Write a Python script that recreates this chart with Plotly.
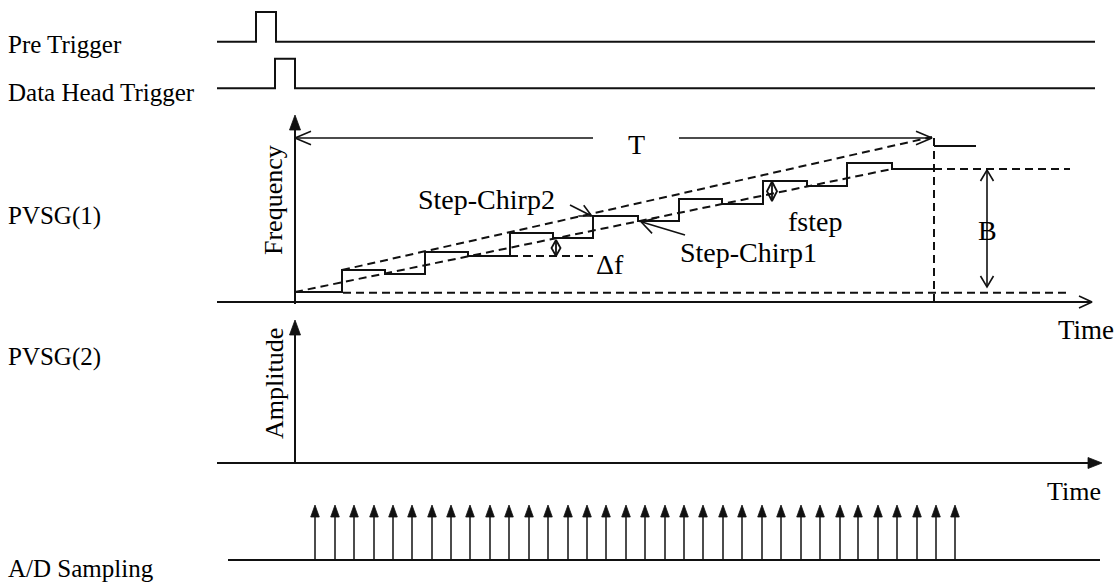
import math
import plotly.graph_objects as go

W, H = 1118, 583
INK = "#111111"
FONT = "Liberation Serif"
FS_SIDE = 25      # lane names on the left
FS_IN = 28        # annotations inside the diagram

# ---------------- trigger lanes ----------------
trig_extent = [217, 1095]
pre_levels = [41.7, 12.0]          # low, high
pre_edges = [256, 276]             # rise, fall
head_levels = [88.3, 58.7]
head_edges = [275, 295]

# ---------------- PVSG(1): stepped chirp ----------------
sweep_start, sweep_end = 295, 934
freq_axis_row, freq_axis_tip = 302, 115
time_axis1 = [217, 1092]
T_row = 138
T_gap = [593, 679]
# step boundaries and alternating levels (Chirp1, Chirp2, Chirp1, ...)
step_t = [295, 342, 385, 425, 468, 510, 553, 593, 638, 679, 722, 763, 807, 847, 892, 933]
step_f = [292, 270, 274, 252, 256, 233, 238, 216, 221, 199, 204, 181, 186, 163, 169]
tail_step = [934, 976, 146]
chirp1_guide = [(295, 292), (892, 169)]
chirp2_guide = [(342, 270), (932, 137)]
low_ref = [343, 1070, 292.7]
high_ref = [934, 1070, 169]
df_ref = [510, 593, 256]
df_marker = [556, 240, 256]
fstep_marker = [772, 181.5, 201]
B_arrow = [987, 170, 287]

# ---------------- PVSG(2) ----------------
amp_axis_row, amp_axis_tip = 463, 320
time_axis2 = [217, 1102]

# ---------------- A/D sampling ----------------
ad_row, ad_tip = 560, 505
ad_extent = [228, 1100]
sample_t = [315, 335, 354, 374, 393, 412, 432, 451, 470, 490, 509, 529, 548, 568,
            587, 606, 626, 645, 665, 684, 703, 723, 742, 762, 781, 801, 820, 840,
            858, 878, 897, 917, 936, 955]

fig = go.Figure()


def add_path(xs, ys, width=2.0, dash=None, shape="linear"):
    fig.add_trace(go.Scatter(x=xs, y=ys, mode="lines", hoverinfo="skip",
                             line=dict(color=INK, width=width, dash=dash, shape=shape)))


def chevron(tx, ty, ux, uy, length, half):
    n = math.hypot(ux, uy)
    ux, uy = ux / n, uy / n
    px, py = -uy, ux
    bx, by = tx - ux * length, ty - uy * length
    return [bx + px * half, tx, bx - px * half, None], [by + py * half, ty, by - py * half, None]


def head(tx, ty, ux, uy, length, half):
    """closed triangle outline for a filled arrow head"""
    xs, ys = chevron(tx, ty, ux, uy, length, half)
    return xs[:3] + [xs[0], None], ys[:3] + [ys[0], None]


def diamond(x, y0, y1, half):
    ym = (y0 + y1) / 2
    return ([x, x - half, x, x + half, x, None, x, x, None],
            [y0, ym, y1, ym, y0, None, y0, y1, None])


# trigger traces
add_path([trig_extent[0], pre_edges[0], pre_edges[1], trig_extent[1]],
         [pre_levels[0], pre_levels[1], pre_levels[0], pre_levels[0]], shape="hv")
add_path([trig_extent[0], head_edges[0], head_edges[1], trig_extent[1]],
         [head_levels[0], head_levels[1], head_levels[0], head_levels[0]], shape="hv")

# PVSG(1) axes
add_path([sweep_start, sweep_start], [freq_axis_row + 2, freq_axis_tip + 8])
add_path(time_axis1, [freq_axis_row, freq_axis_row])
cx, cy = chevron(time_axis1[1], freq_axis_row, 1, 0, 13, 6)
add_path(cx, cy, width=1.6)

# T span arrow
add_path([sweep_start, T_gap[0], None, T_gap[1], chirp2_guide[1][0]],
         [T_row, T_row, None, T_row, T_row], width=1.6)
cx, cy = chevron(sweep_start, T_row, -1, 0, 16, 6.7)
add_path(cx, cy, width=1.6)
cx, cy = chevron(chirp2_guide[1][0], T_row, 1, 0, 16, 6.7)
add_path(cx, cy, width=1.6)

# staircase
add_path(step_t, step_f + [step_f[-1]], shape="hv")
add_path([tail_step[0], tail_step[1]], [tail_step[2], tail_step[2]])

# dashed guides
dash = "8px,5px"
dw = 2.0
add_path([chirp1_guide[0][0], chirp1_guide[1][0]], [chirp1_guide[0][1], chirp1_guide[1][1]], width=dw, dash=dash)
add_path([chirp2_guide[0][0], chirp2_guide[1][0]], [chirp2_guide[0][1], chirp2_guide[1][1]], width=dw, dash=dash)
add_path(low_ref[:2], [low_ref[2]] * 2, width=dw, dash=dash)
add_path(high_ref[:2], [high_ref[2]] * 2, width=dw, dash=dash)
add_path(df_ref[:2], [df_ref[2]] * 2, width=dw, dash=dash)
add_path([sweep_end, sweep_end], [T_row, freq_axis_row + 2], width=dw, dash=dash)

# Δf / fstep markers
dx, dy = diamond(*df_marker, 4.5)
add_path(dx, dy, width=1.8)
dx, dy = diamond(*fstep_marker, 5)
add_path(dx, dy, width=1.8)

# B bandwidth arrow
add_path([B_arrow[0], B_arrow[0]], [B_arrow[1], B_arrow[2]], width=1.6)
cx, cy = chevron(B_arrow[0], B_arrow[1], 0, -1, 11, 6.5)
add_path(cx, cy, width=1.6)
cx, cy = chevron(B_arrow[0], B_arrow[2], 0, 1, 11, 6.5)
add_path(cx, cy, width=1.6)

# Step-Chirp pointers
add_path([570, 591.7], [205, 216], width=1.6)
cx, cy = chevron(591.7, 216, 21.7, 11, 12, 6)
add_path(cx, cy, width=1.6)
add_path([685, 641], [235, 221.7], width=1.6)
cx, cy = chevron(641, 221.7, -44, -13.3, 14, 8)
add_path(cx, cy, width=1.6)

# PVSG(2) axes
add_path([sweep_start, sweep_start], [amp_axis_row, amp_axis_tip + 8])
add_path([time_axis2[0], time_axis2[1] - 6], [amp_axis_row, amp_axis_row])

# A/D sampling
add_path(ad_extent, [ad_row, ad_row])
sx, sy = [], []
for t in sample_t:
    sx += [t, t, None]
    sy += [ad_row, ad_tip + 6, None]
add_path(sx, sy, width=1.5)

# filled arrow heads
hx, hy = [], []
for (tx, ty, ux, uy, ln, hf) in (
        [(sweep_start, freq_axis_tip, 0, -1, 15, 5.5),
         (sweep_start, amp_axis_tip, 0, -1, 15, 5.5),
         (time_axis2[1], amp_axis_row, 1, 0, 14, 5.5)]
        + [(t, ad_tip, 0, -1, 12, 4.3) for t in sample_t]):
    px, py = head(tx, ty, ux, uy, ln, hf)
    hx += px
    hy += py
fig.add_trace(go.Scatter(x=hx, y=hy, mode="lines", fill="toself", fillcolor=INK,
                         hoverinfo="skip", line=dict(color=INK, width=0.8)))

# text
def label(x, y, text, xanchor="left", angle=0, size=FS_IN):
    fig.add_annotation(x=x, y=y, text=text, showarrow=False, xanchor=xanchor, yanchor="middle",
                       textangle=angle, font=dict(family=FONT, size=size, color="#000000"))


label(6, 44, "Pre Trigger", size=FS_SIDE)
label(6, 92, "Data Head Trigger", size=FS_SIDE)
label(6, 216, "PVSG(1)", size=FS_SIDE)
label(6, 357, "PVSG(2)", size=FS_SIDE)
label(6, 568, "A/D Sampling", size=FS_SIDE)
label(273, 200, "Frequency", xanchor="center", angle=-90, size=26)
label(274, 384, "Amplitude", xanchor="center", angle=-90, size=26)
label(636, 144, "T", xanchor="center")
label(416, 199, "Step-Chirp2")
label(678, 252, "Step-Chirp1")
label(594, 264, "Δf")
label(786, 221, "fstep")
label(987, 230, "B", xanchor="center")
label(1056, 330, "Time", size=27)
label(1045, 491, "Time", size=26)

fig.update_layout(
    width=W, height=H, margin=dict(l=0, r=0, t=0, b=0),
    paper_bgcolor="white", plot_bgcolor="white", showlegend=False,
    xaxis=dict(range=[0, W], visible=False, fixedrange=True),
    yaxis=dict(range=[H, 0], visible=False, fixedrange=True),
)

fig.write_html("out.html", config={"displayModeBar": False})
